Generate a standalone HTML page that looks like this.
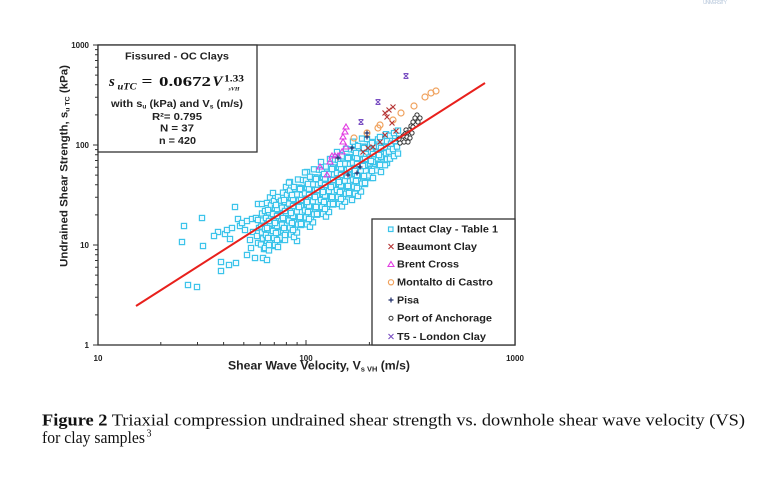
<!DOCTYPE html>
<html><head><meta charset="utf-8"><style>
html,body{margin:0;padding:0;background:#fff;}
svg{display:block;}
.sans{font-family:"Liberation Sans",Arial,sans-serif;font-weight:bold;fill:#222;}
.ser{font-family:"Liberation Serif","Times New Roman",serif;fill:#111;}
.sq{fill:#effaff;stroke:#3cc4ea;stroke-width:1.2;}
</style></head><body>
<svg width="765" height="492" viewBox="0 0 765 492" xmlns="http://www.w3.org/2000/svg">
<defs>
<rect id="q" class="sq" x="-2.6" y="-2.6" width="5.2" height="5.2"/>
<g id="A"><use href="#q" x="0" y="-26"/><use href="#q" x="1" y="-18"/><use href="#q" x="-1" y="-11"/><use href="#q" x="1" y="-5"/><use href="#q" x="0" y="0"/><use href="#q" x="-1" y="6"/><use href="#q" x="1" y="12"/><use href="#q" x="0" y="19"/><use href="#q" x="-1" y="27"/></g>
<g id="B"><use href="#q" x="1" y="-23"/><use href="#q" x="-1" y="-15"/><use href="#q" x="0" y="-8"/><use href="#q" x="1" y="-2"/><use href="#q" x="-1" y="3"/><use href="#q" x="0" y="9"/><use href="#q" x="1" y="15"/><use href="#q" x="-1" y="22"/></g>
<g id="C"><use href="#q" x="-1" y="-28"/><use href="#q" x="0" y="-20"/><use href="#q" x="1" y="-13"/><use href="#q" x="-1" y="-7"/><use href="#q" x="0" y="-1"/><use href="#q" x="1" y="4"/><use href="#q" x="-1" y="10"/><use href="#q" x="0" y="17"/><use href="#q" x="1" y="24"/></g>
<g id="D"><use href="#q" x="0" y="-21"/><use href="#q" x="1" y="-14"/><use href="#q" x="-1" y="-9"/><use href="#q" x="0" y="-3"/><use href="#q" x="1" y="2"/><use href="#q" x="-1" y="8"/><use href="#q" x="0" y="14"/><use href="#q" x="1" y="21"/><use href="#q" x="0" y="29"/></g>
<g id="E"><use href="#q" x="0" y="-15"/><use href="#q" x="1" y="-8"/><use href="#q" x="-1" y="-2"/><use href="#q" x="0" y="4"/><use href="#q" x="1" y="10"/><use href="#q" x="-1" y="16"/></g>
<g id="F"><use href="#q" x="0" y="-11"/><use href="#q" x="1" y="-3"/><use href="#q" x="-1" y="5"/><use href="#q" x="0" y="12"/></g>
<g id="G"><use href="#q" x="0" y="-17"/><use href="#q" x="1" y="-6"/><use href="#q" x="-1" y="1"/><use href="#q" x="0" y="11"/><use href="#q" x="1" y="18"/></g>
<path id="xm" d="M-2.5,-2.5L2.5,2.5M-2.5,2.5L2.5,-2.5" fill="none" stroke-width="1.1"/>
</defs>

<!-- faint logo -->
<text x="703" y="4" font-family="Liberation Sans,sans-serif" font-size="5" fill="#b8c8dc" textLength="24">UNIVERSITY</text>

<!-- outlier squares -->
<g>
<use href="#q" x="184" y="226"/><use href="#q" x="202" y="218"/><use href="#q" x="182" y="242"/><use href="#q" x="203" y="246"/>
<use href="#q" x="235" y="207"/><use href="#q" x="218" y="232"/><use href="#q" x="225" y="234"/><use href="#q" x="227" y="230"/>
<use href="#q" x="230" y="239"/><use href="#q" x="232" y="228"/><use href="#q" x="240" y="226"/><use href="#q" x="238" y="219"/>
<use href="#q" x="242" y="223"/><use href="#q" x="247" y="221"/><use href="#q" x="252" y="219"/><use href="#q" x="256" y="218"/>
<use href="#q" x="258" y="204"/><use href="#q" x="262" y="204"/><use href="#q" x="251" y="248"/><use href="#q" x="247" y="255"/>
<use href="#q" x="255" y="258"/><use href="#q" x="264" y="249"/><use href="#q" x="266" y="249"/><use href="#q" x="263" y="258"/>
<use href="#q" x="267" y="260"/><use href="#q" x="221" y="262"/><use href="#q" x="221" y="271"/><use href="#q" x="229" y="265"/>
<use href="#q" x="236" y="263"/><use href="#q" x="188" y="285"/><use href="#q" x="197" y="287"/><use href="#q" x="253" y="232"/>
<use href="#q" x="214" y="236"/><use href="#q" x="245" y="230"/><use href="#q" x="250" y="240"/><use href="#q" x="272" y="246"/>
<use href="#q" x="279" y="240"/><use href="#q" x="297" y="241"/><use href="#q" x="333" y="202"/><use href="#q" x="352" y="200"/>
<use href="#q" x="371" y="178"/><use href="#q" x="355" y="145"/><use href="#q" x="373" y="142"/><use href="#q" x="387" y="163"/>
<use href="#q" x="383" y="157"/><use href="#q" x="307" y="172"/><use href="#q" x="340" y="155"/><use href="#q" x="290" y="182"/>
</g>
<!-- dense band -->
<g>
<use href="#F" x="258" y="231"/><use href="#E" x="262" y="228.5"/><use href="#B" x="266" y="226"/><use href="#A" x="270" y="223.4"/>
<use href="#C" x="274" y="221"/><use href="#D" x="278" y="218"/><use href="#B" x="282" y="215.7"/><use href="#A" x="286" y="213"/>
<use href="#C" x="290" y="210.6"/><use href="#D" x="294" y="208"/><use href="#A" x="298" y="205.5"/><use href="#B" x="302" y="203"/>
<use href="#C" x="306" y="200.4"/><use href="#D" x="310" y="197.8"/><use href="#A" x="314" y="195.3"/><use href="#B" x="318" y="192.7"/>
<use href="#C" x="322" y="190"/><use href="#D" x="326" y="187.6"/><use href="#A" x="330" y="185"/><use href="#B" x="334" y="182.5"/>
<use href="#C" x="338" y="180"/><use href="#D" x="342" y="177.4"/><use href="#A" x="346" y="174.8"/><use href="#B" x="350" y="172.3"/>
<use href="#C" x="354" y="169.7"/><use href="#D" x="358" y="167"/><use href="#A" x="362" y="164.6"/><use href="#B" x="366" y="162"/>
<use href="#E" x="370" y="159.5"/><use href="#F" x="374" y="157"/><use href="#E" x="378" y="154.4"/><use href="#F" x="382" y="151.8"/>
<use href="#E" x="386" y="149.2"/><use href="#F" x="390" y="146.7"/><use href="#F" x="394" y="144.1"/><use href="#F" x="398" y="141.6"/>
<use href="#G" x="268" y="227"/><use href="#G" x="276" y="222"/><use href="#G" x="284" y="217"/><use href="#G" x="292" y="212"/>
<use href="#G" x="300" y="206"/><use href="#G" x="308" y="201"/><use href="#G" x="316" y="196"/><use href="#G" x="324" y="191"/>
<use href="#G" x="332" y="186"/><use href="#G" x="340" y="181"/><use href="#G" x="348" y="175"/><use href="#G" x="356" y="170"/>
<use href="#G" x="364" y="165"/><use href="#G" x="372" y="160"/><use href="#G" x="380" y="154"/>
</g>

<!-- Port of Anchorage -->
<g fill="#fff" stroke="#333" stroke-width="1">
<circle cx="417" cy="115" r="2.1"/><circle cx="415" cy="118" r="2.1"/><circle cx="413" cy="122" r="2.1"/><circle cx="411" cy="126" r="2.1"/>
<circle cx="409" cy="130" r="2.1"/><circle cx="406" cy="130" r="2.1"/><circle cx="407" cy="133" r="2.1"/><circle cx="405" cy="134" r="2.1"/>
<circle cx="412" cy="133" r="2.1"/><circle cx="407" cy="137" r="2.1"/><circle cx="402" cy="140" r="2.1"/><circle cx="404" cy="142" r="2.1"/>
<circle cx="408" cy="142" r="2.1"/><circle cx="400" cy="143" r="2.1"/><circle cx="418" cy="122" r="2.1"/><circle cx="413" cy="127" r="2.1"/>
<circle cx="399" cy="139" r="2.1"/><circle cx="403" cy="136" r="2.1"/><circle cx="410" cy="138" r="2.1"/><circle cx="420" cy="118" r="2.1"/>
</g>
<!-- Montalto di Castro -->
<g fill="none" stroke="#f0a25e" stroke-width="1.2">
<circle cx="436" cy="91" r="3"/><circle cx="431" cy="93" r="3"/><circle cx="425" cy="97" r="3"/><circle cx="414" cy="106" r="3"/>
<circle cx="401" cy="113" r="3"/><circle cx="393" cy="120" r="3"/><circle cx="380" cy="125" r="3"/><circle cx="378" cy="128" r="3"/>
<circle cx="367" cy="133" r="3"/><circle cx="354" cy="138" r="3"/>
</g>
<!-- Brent Cross -->
<g fill="none" stroke="#e23ee2" stroke-width="1.1">
<path d="M346,124l3,5h-6z M345,129l3,5h-6z M343,134l3,5h-6z M343,139l3,5h-6z M346,144l3,5h-6z M332,153l3,5h-6z M335,153l3,5h-6z M338,153l3,5h-6z M330,159l3,5h-6z M320,164l3,5h-6z M327,172l3,5h-6z M342,149l3,5h-6z"/>
</g>
<!-- Beaumont -->
<g stroke="#b53434">
<use href="#xm" x="393" y="107"/><use href="#xm" x="389" y="110"/><use href="#xm" x="385" y="113"/><use href="#xm" x="387" y="117"/>
<use href="#xm" x="392" y="123"/><use href="#xm" x="396" y="131"/><use href="#xm" x="385" y="135"/><use href="#xm" x="380" y="142"/>
<use href="#xm" x="373" y="147"/><use href="#xm" x="368" y="148"/><use href="#xm" x="363" y="152"/>
</g>
<!-- Pisa -->
<g stroke="#1f2d6a" stroke-width="1.2" fill="none">
<path d="M367,130.5v5M364.5,133h5 M367,134.5v5M364.5,137h5 M352,145.5v5M349.5,148h5 M338,155.5v5M335.5,158h5 M360,164.5v5M357.5,167h5 M357,170.5v5M354.5,173h5 M348,172.5v5M345.5,175h5"/>
</g>
<!-- T5 London Clay -->
<g stroke="#7a4fc2">
<use href="#xm" x="406" y="76"/><use href="#xm" x="378" y="102"/><use href="#xm" x="361" y="122"/>
</g>
<g stroke="#7a4fc2" stroke-width="1"><path d="M404,73.5h4M404,78.5h4M376,99.5h4M376,104.5h4M359,119.5h4M359,124.5h4"/></g>

<!-- regression line -->
<line x1="136" y1="306" x2="485" y2="83" stroke="#e8201c" stroke-width="2"/>

<!-- frame -->
<rect x="98" y="45" width="417" height="300" fill="none" stroke="#333" stroke-width="1.3"/>
<!-- y ticks -->
<path stroke="#333" stroke-width="1" fill="none" d="
M93,45H98M93,145H98M93,245H98M93,345H98
M95,314.9H98M95,297.3H98M95,284.8H98M95,275.1H98M95,267.2H98M95,260.5H98M95,254.7H98M95,249.6H98
M95,214.9H98M95,197.3H98M95,184.8H98M95,175.1H98M95,167.2H98M95,160.5H98M95,154.7H98M95,149.6H98
M95,114.9H98M95,97.3H98M95,84.8H98M95,75.1H98M95,67.2H98M95,60.5H98M95,54.7H98M95,49.6H98"/>
<!-- x ticks -->
<path stroke="#333" stroke-width="1" fill="none" d="
M98,345V340M306,345V340M515,345V340
M160.8,345V342M197.5,345V342M223.6,345V342M243.8,345V342M260.3,345V342M274.3,345V342M286.4,345V342M297.1,345V342
M369.4,345V342M406.1,345V342M432.2,345V342M452.4,345V342M468.9,345V342M482.9,345V342M495,345V342M505.7,345V342"/>

<!-- tick labels -->
<g class="sans" font-size="8">
<text x="89" y="48" text-anchor="end">1000</text>
<text x="89" y="148" text-anchor="end">100</text>
<text x="89" y="248" text-anchor="end">10</text>
<text x="89" y="348" text-anchor="end">1</text>
<text x="98" y="361" text-anchor="middle">10</text>
<text x="306" y="361" text-anchor="middle">100</text>
<text x="515" y="361" text-anchor="middle">1000</text>
</g>

<!-- axis titles -->
<text class="sans" font-size="11.5" x="228" y="369.5" textLength="182" lengthAdjust="spacingAndGlyphs">Shear Wave Velocity, V<tspan font-size="7" dy="2">s VH</tspan><tspan dy="-2"> (m/s)</tspan></text>
<text class="sans" font-size="10.8" transform="translate(67.5,166) rotate(-90)" text-anchor="middle" textLength="202" lengthAdjust="spacingAndGlyphs">Undrained Shear Strength, s<tspan font-size="6.5" dy="2">u TC</tspan><tspan dy="-2"> (kPa)</tspan></text>

<!-- equation box -->
<rect x="98" y="45" width="159" height="107" fill="#fff" stroke="#333" stroke-width="1.3"/>
<g class="sans" font-size="10">
<text x="125" y="59.3" textLength="104" lengthAdjust="spacingAndGlyphs">Fissured - OC Clays</text>
<text x="111" y="107" textLength="132" lengthAdjust="spacingAndGlyphs">with s<tspan font-size="6" dy="1.5">u</tspan><tspan dy="-1.5"> (kPa) and V</tspan><tspan font-size="6" dy="1.5">s</tspan><tspan dy="-1.5"> (m/s)</tspan></text>
<text x="152" y="120" textLength="50" lengthAdjust="spacingAndGlyphs">R²= 0.795</text>
<text x="160" y="131.7" textLength="34" lengthAdjust="spacingAndGlyphs">N = 37</text>
<text x="159" y="144" textLength="37" lengthAdjust="spacingAndGlyphs">n = 420</text>
</g>
<g class="ser" font-weight="bold">
<text x="109" y="86" font-size="15" font-style="italic">s</text>
<text x="117.5" y="89.5" font-size="9.5" font-style="italic" textLength="19" lengthAdjust="spacingAndGlyphs">uTC</text>
<text x="141.5" y="86" font-size="15" textLength="11" lengthAdjust="spacingAndGlyphs">=</text>
<text x="159" y="86" font-size="14" textLength="52" lengthAdjust="spacingAndGlyphs">0.0672</text>
<text x="212.5" y="86" font-size="15" font-style="italic">V</text>
<text x="224" y="81.5" font-size="9.5" textLength="20" lengthAdjust="spacingAndGlyphs">1.33</text>
<text x="228.5" y="90.5" font-size="5" font-style="italic" textLength="11" lengthAdjust="spacingAndGlyphs">sVH</text>
</g>

<!-- legend -->
<rect x="372" y="219" width="143" height="126" fill="#fff" stroke="#333" stroke-width="1.3"/>
<rect x="388.5" y="227" width="4.5" height="4.5" fill="#effaff" stroke="#3cc4ea" stroke-width="1.2"/>
<use href="#xm" x="391" y="246.5" stroke="#b53434"/>
<path d="M391,261.5l3,5h-6z" fill="none" stroke="#e23ee2" stroke-width="1.1"/>
<circle cx="391" cy="282.3" r="2.6" fill="none" stroke="#f0a25e" stroke-width="1.2"/>
<path d="M391,297.5v5M388.5,300h5" stroke="#1f2d6a" stroke-width="1.2"/>
<circle cx="391" cy="318.3" r="2" fill="#fff" stroke="#333" stroke-width="1"/>
<use href="#xm" x="391" y="336.5" stroke="#7a4fc2"/>
<g class="sans" font-size="10">
<text x="397" y="232.7" textLength="101" lengthAdjust="spacingAndGlyphs">Intact Clay - Table 1</text>
<text x="397" y="250" textLength="80" lengthAdjust="spacingAndGlyphs">Beaumont Clay</text>
<text x="397" y="267.7" textLength="62" lengthAdjust="spacingAndGlyphs">Brent Cross</text>
<text x="397" y="285.7" textLength="96" lengthAdjust="spacingAndGlyphs">Montalto di Castro</text>
<text x="397" y="303.3" textLength="22" lengthAdjust="spacingAndGlyphs">Pisa</text>
<text x="397" y="321.7" textLength="95" lengthAdjust="spacingAndGlyphs">Port of Anchorage</text>
<text x="397" y="340" textLength="89" lengthAdjust="spacingAndGlyphs">T5 - London Clay</text>
</g>

<!-- caption -->
<text class="ser" font-size="17" x="42" y="425.5" textLength="703" lengthAdjust="spacingAndGlyphs"><tspan font-weight="bold">Figure 2</tspan> Triaxial compression undrained shear strength vs. downhole shear wave velocity (VS)</text>
<text class="ser" font-size="17" x="42" y="443" textLength="103" lengthAdjust="spacingAndGlyphs">for clay samples</text>
<text class="ser" font-size="10" x="146.5" y="436.5">3</text>
</svg>
</body></html>
